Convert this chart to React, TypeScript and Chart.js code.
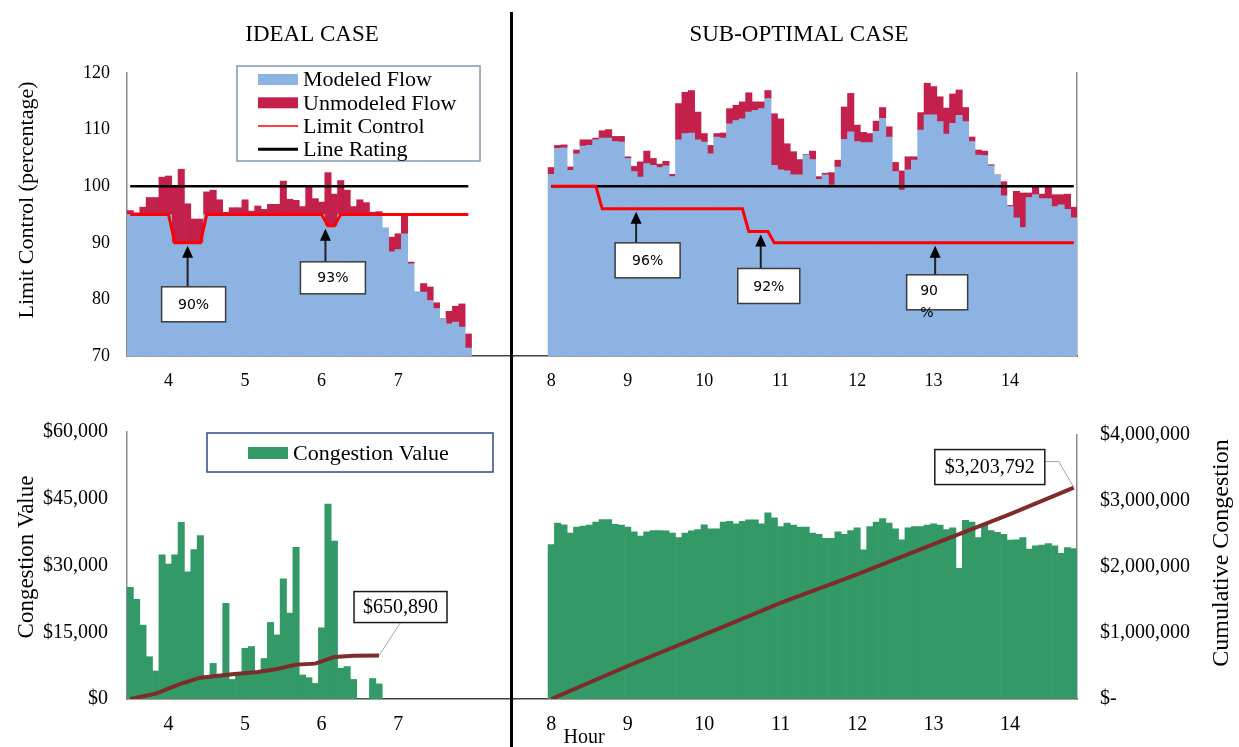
import React, { useEffect, useRef } from 'react';
import { Chart, registerables } from 'chart.js';

Chart.register(...registerables);

const SERIF = '"Liberation Serif", "Times New Roman", serif';
const SANS = '"DejaVu Sans", Verdana, sans-serif';
Chart.defaults.font.family = SERIF;
Chart.defaults.color = '#000';

// ---------------- categories (5-minute intervals) ----------------
const idealTimes = [
  '3:30', '3:35', '3:40', '3:45', '3:50', '3:55',
  '4:00', '4:05', '4:10', '4:15', '4:20', '4:25', '4:30', '4:35', '4:40', '4:45', '4:50', '4:55',
  '5:00', '5:05', '5:10', '5:15', '5:20', '5:25', '5:30', '5:35', '5:40', '5:45', '5:50', '5:55',
  '6:00', '6:05', '6:10', '6:15', '6:20', '6:25', '6:30', '6:35', '6:40', '6:45', '6:50', '6:55',
  '7:00', '7:05', '7:10', '7:15', '7:20', '7:25', '7:30', '7:35', '7:40', '7:45', '7:50', '7:55',
];
const subTimes = [
  '8:00', '8:05', '8:10', '8:15', '8:20', '8:25', '8:30', '8:35', '8:40', '8:45', '8:50', '8:55',
  '9:00', '9:05', '9:10', '9:15', '9:20', '9:25', '9:30', '9:35', '9:40', '9:45', '9:50', '9:55',
  '10:00', '10:05', '10:10', '10:15', '10:20', '10:25', '10:30', '10:35', '10:40', '10:45', '10:50', '10:55',
  '11:00', '11:05', '11:10', '11:15', '11:20', '11:25', '11:30', '11:35', '11:40', '11:45', '11:50', '11:55',
  '12:00', '12:05', '12:10', '12:15', '12:20', '12:25', '12:30', '12:35', '12:40', '12:45', '12:50', '12:55',
  '13:00', '13:05', '13:10', '13:15', '13:20', '13:25', '13:30', '13:35', '13:40', '13:45', '13:50', '13:55',
  '14:00', '14:05', '14:10', '14:15', '14:20', '14:25', '14:30', '14:35', '14:40', '14:45', '14:50',
];

// ---------------- tick labels ----------------
const idealHourTicks = [4, 5, 6, 7];
const subHourTicks = [8, 9, 10, 11, 12, 13, 14];
const flowTicks = [70, 80, 90, 100, 110, 120];
const congestionTicks = [0, 15000, 30000, 45000, 60000];
const cumulativeTicks = [0, 1000000, 2000000, 3000000, 4000000];

// ---------------- IDEAL CASE: flows (%) ----------------
const idealModeled = [
  95, 95, 95, 95, 95, 95, 95,
  90, 90, 90, 90, 90,
  95, 95, 95, 95, 95, 95, 95, 95, 95, 95, 95, 95, 95, 95, 95, 95, 95, 95, 95,
  93, 93,
  95, 95, 95, 95, 95, 95, 95,
  92.6, 88.4, 88.8, 91.6, 86.3, 81.3, 81.3, 79.8, 78.4, 76.6, 75.7, 76.0, 75.1, 71.4,
];
const idealUnmodeled = [
  0.7, 0.3, 1.3, 3.0, 3.0, 6.6, 6.8,
  10.0, 13.0, 6.9, 4.2, 4.2,
  4.0, 4.3, 2.6, 0.4, 1.2, 1.2, 2.6, 0.6, 1.5, 0.9, 1.8, 1.8, 5.9, 2.7, 2.5, 1.4, 5.0, 2.8, 2.2,
  9.4, 5.6,
  6.0, 4.3, 1.4, 2.6, 2.1, 0.4, 0.5,
  0, 2.6, 2.8, 3.1, 0.3, 0, 1.5, 2.4, 1.0, 0, 2.2, 2.8, 4.1, 2.5,
];
const idealLimit = [
  95, 95, 95, 95, 95, 95, 95,
  90, 90, 90, 90, 90,
  95, 95, 95, 95, 95, 95, 95, 95, 95, 95, 95, 95, 95, 95, 95, 95, 95, 95, 95,
  93, 93,
  95, 95, 95, 95, 95, 95, 95,
  95, 95, 95, 95, 95, 95, 95,
  95, 95, 95, 95, 95, 95, 95,
];

// ---------------- SUB-OPTIMAL CASE: flows (%) ----------------
const subModeled = [
  102.1, 106.7, 106.8, 102.8, 105.7, 107.1, 107.2, 108.2, 108.5, 108.5,
  107.9, 107.8, 104.9, 102.6, 101.6, 104.0, 103.7, 103.3, 103.6, 101.7,
  108.2, 109.3, 109.4, 108.2, 107.8, 105.7, 108.7, 108.5, 111.0, 111.6,
  111.9, 113.1, 113.4, 113.7, 115.5, 103.7, 102.9, 102.7, 102.0, 102.0,
  105.5, 104.7, 101.2, 102.0, 100.2, 103.4, 108.3, 109.6, 107.9, 107.7,
  107.7, 109.7, 112.0, 108.7, 102.6, 99.3, 102.9, 104.6, 109.9, 112.6,
  112.6, 111.4, 109.2, 111.1, 112.5, 111.4, 107.9, 105.5, 105.4, 103.6,
  101.9, 98.3, 96.4, 94.4, 92.7, 98.0, 98.5, 97.8, 97.8, 96.4,
  96.7, 95.9, 94.4,
];
const subUnmodeled = [
  1.2, 0.5, 0.5, 0.6, 0.7, 1.1, 1.0, 0.3, 1.3, 1.5,
  0.9, 1.0, 0.3, 0.9, 2.7, 2.2, 1.2, 0.6, 0.8, 0.4,
  6.4, 7.3, 7.5, 4.9, 1.5, 1.5, 0.6, 0.9, 2.7, 2.7,
  3.0, 3.4, 1.5, 1.2, 1.4, 9.1, 9.0, 4.8, 4.1, 2.7,
  0.1, 1.5, 0.5, 0.3, 2.2, 1.2, 5.7, 6.8, 2.9, 1.8,
  1.6, 1.8, 1.9, 1.8, 1.6, 3.4, 2.3, 0.6, 3.1, 5.6,
  5.0, 4.4, 4.6, 5.2, 4.5, 2.5, 0.8, 0.9, 0.8, 0.2,
  0.1, 2.5, 0.2, 4.7, 6.1, 0.8, 1.4, 0.8, 2.1, 2.1,
  1.8, 2.7, 1.9,
];
const subLimit = [
  100, 100, 100, 100, 100, 100, 100, 100,
  96, 96, 96, 96, 96, 96, 96, 96, 96, 96, 96, 96, 96, 96, 96, 96, 96, 96, 96, 96, 96, 96, 96,
  92, 92, 92, 92,
  90, 90, 90, 90, 90, 90, 90, 90, 90, 90, 90, 90,
  90, 90, 90, 90, 90, 90, 90, 90, 90, 90, 90, 90,
  90, 90, 90, 90, 90, 90, 90, 90, 90, 90, 90, 90,
  90, 90, 90, 90, 90, 90, 90, 90, 90, 90, 90, 90,
];
const lineRating = 100;

// ---------------- congestion ($) ----------------
const idealCongestion = [
  25100, 22400, 16600, 9500, 6300, 32400, 30300, 32400, 39700, 28600,
  33600, 36700, 4700, 8000, 5000, 21500, 4400, 5600, 11400, 11800,
  6000, 9100, 17200, 14400, 27000, 19300, 34100, 5400, 4800, 3500,
  16000, 43800, 35500, 6900, 7300, 4400, 0, 0, 4600, 3400,
];
const subCongestion = [
  35100, 40000, 39600, 37700, 39100, 39300, 39500, 40200, 40800, 40800,
  39700, 39500, 39100, 38000, 37000, 38000, 38300, 38300, 38200, 37700,
  36700, 37700, 38200, 38500, 39600, 38700, 38700, 40200, 40400, 39800,
  40400, 40700, 40700, 39800, 42300, 41200, 39200, 40000, 39500, 39100,
  39100, 37700, 37400, 36500, 36500, 38000, 37400, 38300, 38900, 33900,
  39200, 40200, 41000, 40000, 38700, 36200, 38900, 39200, 39200, 39500,
  39800, 39500, 38500, 38900, 29700, 40600, 40200, 36700, 39600, 38300,
  37900, 37400, 36100, 36200, 36700, 34100, 34800, 35000, 35300, 34800,
  33100, 34400, 34200,
];
const idealCumTimes = ['3:30', '3:50', '4:10', '4:25', '4:50', '5:10', '5:25', '5:40', '5:55', '6:10', '6:25', '6:45'];
const idealCumValues = [0, 80000, 230000, 320000, 370000, 405000, 450000, 515000, 530000, 630000, 648000, 650890];
const subCumTimes = ['8:00', '9:00', '10:00', '11:00', '12:00', '13:00', '14:00', '14:50'];
const subCumValues = [0, 500000, 975000, 1455000, 1890000, 2345000, 2800000, 3203792];

// ---------------- styles ----------------
const BLUE = '#8DB3E2';
const CRIMSON = '#C3204B';
const LIMIT_RED = '#FF0000';
const GREEN = '#339966';
const CUM_RED = '#7D2B2B';
const AXIS_GRAY = '#8C8C8C';
const AXIS_DARK = '#404040';
const IDEAL_RANGE = [3.4583, 8.5];
const SUB_RANGE = [7.5, 14.875];

const toHour = (t: string) => {
  const [h, m] = t.split(':').map(Number);
  return h + m / 60;
};
const money = (v: number, zero: string) => (v === 0 ? zero : '$' + Number(v).toLocaleString('en-US'));
const fixedTicks = (list: number[]) => (s: any) => {
  s.ticks = list.map((value) => ({ value }));
};
const noGrid = { display: false, drawTicks: false };

function xAxis(range: number[], ticks: number[], size: number) {
  return {
    type: 'linear',
    min: range[0],
    max: range[1],
    offset: false,
    stacked: true,
    grid: noGrid,
    border: { display: true, color: AXIS_DARK, width: 1.5 },
    ticks: { font: { size }, padding: 14, color: '#000', callback: (v: number) => String(v) },
    afterBuildTicks: fixedTicks(ticks),
    afterFit: (s: any) => {
      s.height = 40;
    },
  };
}

// ---------------- drawing helpers plugin ----------------
function extras(cfg: any) {
  return {
    id: 'extras',
    afterDatasetsDraw(chart: any) {
      const ctx = chart.ctx;
      const xs = chart.scales.x;
      for (const n of cfg.notes || []) {
        const ys = chart.scales.y;
        const px = xs.getPixelForValue(n.x);
        const py = ys.getPixelForValue(n.y);
        const tip = py + 3;
        const bx = px + n.dx;
        const by = py + n.dy;
        ctx.save();
        ctx.strokeStyle = '#222';
        ctx.lineWidth = 2;
        ctx.beginPath();
        ctx.moveTo(px, by);
        ctx.lineTo(px, tip + 10);
        ctx.stroke();
        ctx.fillStyle = '#000';
        ctx.beginPath();
        ctx.moveTo(px, tip);
        ctx.lineTo(px - 5.5, tip + 12);
        ctx.lineTo(px + 5.5, tip + 12);
        ctx.closePath();
        ctx.fill();
        ctx.fillStyle = '#fff';
        ctx.fillRect(bx, by, n.w, n.h);
        ctx.strokeStyle = '#3c3c3c';
        ctx.lineWidth = 1.5;
        ctx.strokeRect(bx, by, n.w, n.h);
        ctx.fillStyle = '#000';
        ctx.font = `14px ${SANS}`;
        ctx.textBaseline = 'middle';
        if (n.lines.length === 1) {
          ctx.textAlign = 'center';
          ctx.fillText(n.lines[0], bx + n.w / 2, by + n.h / 2 + 1);
        } else {
          ctx.textAlign = 'left';
          n.lines.forEach((t: string, i: number) => ctx.fillText(t, bx + n.textDx, by + n.textDy + i * n.lineGap));
        }
        ctx.restore();
      }
      for (const c of cfg.callouts || []) {
        const ys = chart.scales[c.yAxis];
        const px = xs.getPixelForValue(c.x);
        const py = ys.getPixelForValue(c.y);
        const bx = px + c.dx;
        const by = py + c.dy;
        ctx.save();
        ctx.strokeStyle = '#a6a6a6';
        ctx.lineWidth = 1;
        ctx.beginPath();
        if (c.leader === 'bottom') {
          ctx.moveTo(bx + c.w / 2, by + c.h);
          ctx.lineTo(px, py);
        } else {
          ctx.moveTo(bx + c.w, by + 12);
          ctx.lineTo(bx + c.w + 14, by + 12);
          ctx.lineTo(px, py);
        }
        ctx.stroke();
        ctx.fillStyle = '#fff';
        ctx.fillRect(bx, by, c.w, c.h);
        ctx.strokeStyle = '#1a1a1a';
        ctx.lineWidth = 1.5;
        ctx.strokeRect(bx, by, c.w, c.h);
        ctx.fillStyle = '#000';
        ctx.font = `20px ${SERIF}`;
        ctx.textAlign = 'center';
        ctx.textBaseline = 'middle';
        ctx.fillText(c.text, bx + c.w / 2, by + c.h / 2 + 1);
        ctx.restore();
      }
    },
    afterDraw(chart: any) {
      const ctx = chart.ctx;
      const lg = cfg.legend;
      if (lg) {
        const a = chart.chartArea;
        const L = a.left + lg.dx;
        const T = a.top + lg.dy;
        ctx.save();
        ctx.fillStyle = '#fff';
        ctx.fillRect(L, T, lg.w, lg.h);
        ctx.strokeStyle = lg.border;
        ctx.lineWidth = 1.5;
        ctx.strokeRect(L, T, lg.w, lg.h);
        lg.items.forEach((it: any, i: number) => {
          const ds = chart.data.datasets[it.ds];
          const cy = T + lg.rowY[i];
          if (it.kind === 'rect') {
            ctx.fillStyle = ds.backgroundColor;
            ctx.fillRect(L + lg.symX, cy - it.size / 2, lg.symW, it.size);
          } else {
            ctx.strokeStyle = ds.borderColor;
            ctx.lineWidth = it.size;
            ctx.beginPath();
            ctx.moveTo(L + lg.symX, cy);
            ctx.lineTo(L + lg.symX + lg.symW, cy);
            ctx.stroke();
          }
          ctx.fillStyle = '#000';
          ctx.font = `22px ${SERIF}`;
          ctx.textAlign = 'left';
          ctx.textBaseline = 'middle';
          ctx.fillText(ds.label, L + lg.textX, cy + 1);
        });
        ctx.restore();
      }
      for (const t of cfg.texts || []) {
        ctx.save();
        ctx.fillStyle = '#000';
        ctx.font = `${t.size}px ${SERIF}`;
        ctx.textAlign = 'center';
        ctx.textBaseline = 'middle';
        ctx.translate(t.x, t.y);
        if (t.rotate) ctx.rotate(-Math.PI / 2);
        ctx.fillText(t.text, 0, 0);
        ctx.restore();
      }
    },
  };
}

const baseOptions = {
  responsive: false,
  animation: false,
  devicePixelRatio: 1,
  events: [],
};
const hiddenPlugins = { legend: { display: false }, tooltip: { enabled: false }, title: { display: false } };

function flowDatasets(times: string[], modeled: number[], unmodeled: number[], limit: number[]) {
  const xs = times.map(toHour);
  const bar = { type: 'bar', borderWidth: 0, barPercentage: 1, categoryPercentage: 1, order: 3 };
  return [
    { ...bar, label: 'Modeled Flow', backgroundColor: BLUE, data: xs.map((x, i) => ({ x, y: modeled[i] })) },
    { ...bar, label: 'Unmodeled Flow', backgroundColor: CRIMSON, data: xs.map((x, i) => ({ x, y: unmodeled[i] })) },
    {
      type: 'line', label: 'Limit Control', yAxisID: 'yl', borderColor: LIMIT_RED, borderWidth: 3,
      pointRadius: 0, tension: 0, order: 1, data: xs.map((x, i) => ({ x, y: limit[i] })),
    },
    {
      type: 'line', label: 'Line Rating', yAxisID: 'yl', borderColor: '#000', borderWidth: 2.5,
      pointRadius: 0, tension: 0, order: 2,
      data: [{ x: xs[0], y: lineRating }, { x: xs[xs.length - 1], y: lineRating }],
    },
  ];
}

function makeTopLeft() {
  return {
    type: 'bar',
    data: { datasets: flowDatasets(idealTimes, idealModeled, idealUnmodeled, idealLimit) },
    options: {
      ...baseOptions,
      layout: { padding: { left: 0, right: 7, top: 73, bottom: 4 } },
      plugins: hiddenPlugins,
      scales: {
        x: xAxis(IDEAL_RANGE, idealHourTicks, 18),
        y: {
          type: 'linear', position: 'left', min: 70, max: 120, stacked: true,
          grid: noGrid, border: { display: true, color: AXIS_GRAY, width: 1.5 },
          ticks: { font: { size: 18 }, padding: 17, color: '#000' },
          afterBuildTicks: fixedTicks(flowTicks),
          afterFit: (s: any) => { s.width = 127; },
        },
        yl: { type: 'linear', display: false, min: 70, max: 120 },
      },
    },
    plugins: [
      extras({
        texts: [
          { text: 'IDEAL CASE', x: 312, y: 35, size: 23 },
          { text: 'Limit Control (percentage)', x: 27, y: 200, size: 22, rotate: true },
        ],
        notes: [
          { x: 4.25, y: 90, lines: ['90%'], dx: -26, dy: 44, w: 64, h: 35 },
          { x: 6.05, y: 93, lines: ['93%'], dx: -25, dy: 36, w: 65, h: 32 },
        ],
        legend: {
          dx: 110, dy: -7, w: 243, h: 95, border: '#8497B0', rowY: [13.5, 36.8, 60, 83.3],
          symX: 21, symW: 40, textX: 66,
          items: [
            { ds: 0, kind: 'rect', size: 11 },
            { ds: 1, kind: 'rect', size: 11 },
            { ds: 2, kind: 'line', size: 1.5 },
            { ds: 3, kind: 'line', size: 3 },
          ],
        },
      }),
    ],
  };
}

function makeTopRight() {
  return {
    type: 'bar',
    data: { datasets: flowDatasets(subTimes, subModeled, subUnmodeled, subLimit) },
    options: {
      ...baseOptions,
      layout: { padding: { left: 0, right: 36, top: 73, bottom: 4 } },
      plugins: hiddenPlugins,
      scales: {
        x: xAxis(SUB_RANGE, subHourTicks, 18),
        y: {
          type: 'linear', position: 'right', min: 70, max: 120, stacked: true,
          grid: noGrid, border: { display: true, color: AXIS_GRAY, width: 1.5 },
          ticks: { display: false },
          afterBuildTicks: fixedTicks(flowTicks),
          afterFit: (s: any) => { s.width = 0; },
        },
        yl: { type: 'linear', display: false, min: 70, max: 120 },
      },
    },
    plugins: [
      extras({
        texts: [{ text: 'SUB-OPTIMAL CASE', x: 286, y: 35, size: 23 }],
        notes: [
          { x: 9.11, y: 96, lines: ['96%'], dx: -21, dy: 34, w: 65, h: 35 },
          { x: 10.74, y: 92, lines: ['92%'], dx: -23, dy: 37, w: 62, h: 35 },
          { x: 13.02, y: 90, lines: ['90', '%'], dx: -28.5, dy: 32, w: 61, h: 35, textDx: 13.5, textDy: 17, lineGap: 22 },
        ],
      }),
    ],
  };
}

function congestionDatasets(times: string[], values: number[], cumTimes: string[], cumValues: number[]) {
  return [
    {
      type: 'line', label: 'Cumulative Congestion', yAxisID: 'yc', borderColor: CUM_RED, borderWidth: 4,
      pointRadius: 0, tension: 0, order: 1,
      data: cumTimes.map((t, i) => ({ x: toHour(t), y: cumValues[i] })),
    },
    {
      type: 'bar', label: 'Congestion Value', yAxisID: 'y', backgroundColor: GREEN, borderWidth: 0,
      barPercentage: 1, categoryPercentage: 1, order: 2,
      data: values.map((v, i) => ({ x: toHour(times[i]), y: v })),
    },
  ];
}

function makeBottomLeft() {
  const lastT = idealCumTimes[idealCumTimes.length - 1];
  const lastV = idealCumValues[idealCumValues.length - 1];
  return {
    type: 'bar',
    data: { datasets: congestionDatasets(idealTimes, idealCongestion, idealCumTimes, idealCumValues) },
    options: {
      ...baseOptions,
      layout: { padding: { left: 0, right: 7, top: 32, bottom: 8 } },
      plugins: hiddenPlugins,
      scales: {
        x: xAxis(IDEAL_RANGE, idealHourTicks, 20),
        y: {
          type: 'linear', position: 'left', min: 0, max: 60000,
          grid: noGrid, border: { display: true, color: AXIS_GRAY, width: 1.5 },
          ticks: { font: { size: 20 }, padding: 19, color: '#000', callback: (v: number) => money(v, '$0') },
          afterBuildTicks: fixedTicks(congestionTicks),
          afterFit: (s: any) => { s.width = 127; },
        },
        yc: { type: 'linear', display: false, min: 0, max: 4000000 },
      },
    },
    plugins: [
      extras({
        texts: [{ text: 'Congestion Value', x: 27, y: 157, size: 23, rotate: true }],
        callouts: [
          { x: toHour(lastT), y: lastV, yAxis: 'yc', text: money(lastV, '$-'), dx: -25, dy: -64, w: 93, h: 31, leader: 'bottom' },
        ],
        legend: {
          dx: 80, dy: 1, w: 286, h: 39, border: '#2E4A8A', rowY: [20], symX: 41, symW: 40, textX: 86,
          items: [{ ds: 1, kind: 'rect', size: 12 }],
        },
      }),
    ],
  };
}

function makeBottomRight() {
  const lastT = subCumTimes[subCumTimes.length - 1];
  const lastV = subCumValues[subCumValues.length - 1];
  return {
    type: 'bar',
    data: { datasets: congestionDatasets(subTimes, subCongestion, subCumTimes, subCumValues) },
    options: {
      ...baseOptions,
      layout: { padding: { left: 0, right: 0, top: 32, bottom: 8 } },
      plugins: hiddenPlugins,
      scales: {
        x: xAxis(SUB_RANGE, subHourTicks, 20),
        y: { type: 'linear', display: false, min: 0, max: 60000 },
        yc: {
          type: 'linear', position: 'right', min: 0, max: 4000000,
          grid: noGrid, border: { display: true, color: AXIS_GRAY, width: 1.5 },
          ticks: { font: { size: 20 }, padding: 23, color: '#000', callback: (v: number) => money(v, '$-') },
          afterBuildTicks: fixedTicks(cumulativeTicks),
          afterFit: (s: any) => { s.width = 162; },
        },
      },
    },
    plugins: [
      extras({
        texts: [
          { text: 'Cumulative Congestion', x: 709, y: 153, size: 24, rotate: true },
          { text: 'Hour', x: 71, y: 338, size: 20 },
        ],
        callouts: [
          { x: toHour(lastT), y: lastV, yAxis: 'yc', text: money(lastV, '$-'), dx: -139, dy: -38, w: 110, h: 35, leader: 'right' },
        ],
      }),
    ],
  };
}

function Panel({ left, top, width, height, make }: { left: number; top: number; width: number; height: number; make: () => any }) {
  const ref = useRef<HTMLCanvasElement | null>(null);
  useEffect(() => {
    if (!ref.current) return;
    const chart = new Chart(ref.current, make());
    return () => chart.destroy();
  }, [make]);
  return (
    <canvas
      ref={ref}
      width={width}
      height={height}
      style={{ position: 'absolute', left, top, width, height }}
    />
  );
}

export default function App() {
  return (
    <div style={{ position: 'fixed', left: 0, top: 0, width: 1239, height: 747, background: '#fff', overflow: 'hidden' }}>
      <Panel left={0} top={0} width={520} height={400} make={makeTopLeft} />
      <Panel left={513} top={0} width={600} height={400} make={makeTopRight} />
      <Panel left={0} top={400} width={520} height={347} make={makeBottomLeft} />
      <Panel left={513} top={400} width={726} height={347} make={makeBottomRight} />
      <div style={{ position: 'absolute', left: 510, top: 12, width: 3, height: 735, background: '#000' }} />
    </div>
  );
}
